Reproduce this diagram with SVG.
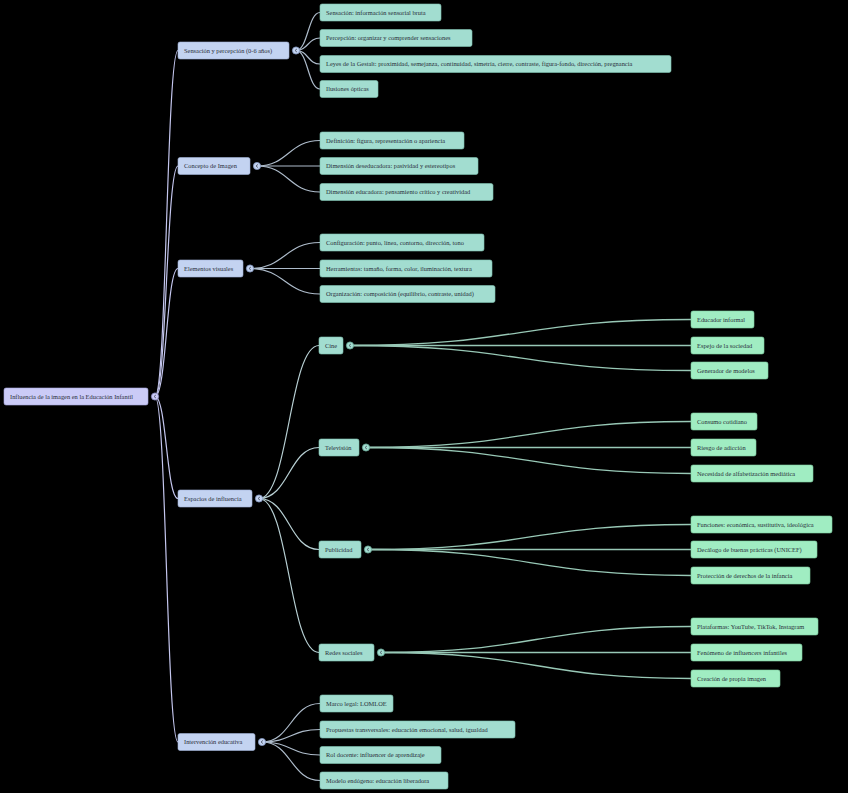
<svg xmlns="http://www.w3.org/2000/svg" width="848" height="793" viewBox="0 0 848 793">
<style>
.bg{fill:#000}
.r0{fill:#cbcbf7;stroke:#aaaadf;stroke-width:0.6}
.r1{fill:#c3d3f1;stroke:#a2b4d8;stroke-width:0.6}
.r2{fill:#a2ddd0;stroke:#82c2b2;stroke-width:0.6}
.r3{fill:#a0edc2;stroke:#80d2a2;stroke-width:0.6}
text{font-family:"Liberation Serif","Times New Roman",serif;font-size:6.4px;fill:#2a2f3a}
.k0{fill:none;stroke:#c4c6ee;stroke-width:1.2}
.k1{fill:none;stroke:#aebccb;stroke-width:1.2}
.k2{fill:none;stroke:#b8d0d4;stroke-width:1.2}
.k3{fill:none;stroke:#98c8b6;stroke-width:1.3}
.c0{fill:#cbcbf7;stroke:#8a8ac0;stroke-width:0.8}
.c1{fill:#c3d3f1;stroke:#8498c0;stroke-width:0.8}
.c2{fill:#a2ddd0;stroke:#6aa898;stroke-width:0.8}
.chev{fill:none;stroke:#3a4050;stroke-width:0.7}
</style>
<rect class="bg" x="0" y="0" width="848" height="793"/>
<g id="connectors">
<!-- root to level 1 -->
<path class="k0" d="M155,396.5 C166.5,396.5 166.5,50.5 178,50.5"/>
<path class="k0" d="M155,396.5 C166.5,396.5 166.5,166 178,166"/>
<path class="k0" d="M155,396.5 C166.5,396.5 166.5,268.5 178,268.5"/>
<path class="k0" d="M155,396.5 C166.5,396.5 166.5,498.5 178,498.5"/>
<path class="k0" d="M155,396.5 C166.5,396.5 166.5,742 178,742"/>
<!-- Sensación -->
<path class="k1" d="M296,50.5 C308,50.5 308,12.5 320,12.5"/>
<path class="k1" d="M296,50.5 C308,50.5 308,38 320,38"/>
<path class="k1" d="M296,50.5 C308,50.5 308,64 320,64"/>
<path class="k1" d="M296,50.5 C308,50.5 308,89 320,89"/>
<!-- Concepto -->
<path class="k1" d="M257,166 C288.5,166 288.5,140.5 320,140.5"/>
<path class="k1" d="M257,166 L320,166"/>
<path class="k1" d="M257,166 C288.5,166 288.5,192 320,192"/>
<!-- Elementos -->
<path class="k1" d="M250,268.5 C285,268.5 285,242.5 320,242.5"/>
<path class="k1" d="M250,268.5 L320,268.5"/>
<path class="k1" d="M250,268.5 C285,268.5 285,294 320,294"/>
<!-- Espacios -->
<path class="k2" d="M259,498.5 C289,498.5 289,345.5 319,345.5"/>
<path class="k2" d="M259,498.5 C289,498.5 289,447.5 319,447.5"/>
<path class="k2" d="M259,498.5 C289,498.5 289,549.5 319,549.5"/>
<path class="k2" d="M259,498.5 C289,498.5 289,652.5 319,652.5"/>
<!-- Intervención -->
<path class="k1" d="M262,742 C291,742 291,703.5 320,703.5"/>
<path class="k1" d="M262,742 C291,742 291,729.5 320,729.5"/>
<path class="k1" d="M262,742 C291,742 291,755 320,755"/>
<path class="k1" d="M262,742 C291,742 291,780.5 320,780.5"/>
<!-- Cine -->
<path class="k3" d="M350,345.5 C520,345.5 520,319.5 691,319.5"/>
<path class="k3" d="M350,345.5 L691,345.5"/>
<path class="k3" d="M350,345.5 C520,345.5 520,370.5 691,370.5"/>
<!-- Televisión -->
<path class="k3" d="M366,447.5 C528,447.5 528,421.5 691,421.5"/>
<path class="k3" d="M366,447.5 L691,447.5"/>
<path class="k3" d="M366,447.5 C528,447.5 528,473.5 691,473.5"/>
<!-- Publicidad -->
<path class="k3" d="M368,549.5 C530,549.5 530,524.5 691,524.5"/>
<path class="k3" d="M368,549.5 L691,549.5"/>
<path class="k3" d="M368,549.5 C530,549.5 530,575.5 691,575.5"/>
<!-- Redes -->
<path class="k3" d="M381,652.5 C536,652.5 536,626.5 691,626.5"/>
<path class="k3" d="M381,652.5 L691,652.5"/>
<path class="k3" d="M381,652.5 C536,652.5 536,678.5 691,678.5"/>
</g>

<g id="root"><rect class="r0" x="4" y="388" width="144" height="17" rx="2"/><text x="10" y="398.7">Influencia de la imagen en la Educación Infantil</text><circle class="c0" cx="155" cy="396.5" r="3.6"/><path class="chev" d="M156,394.9 L154,396.5 L156,398.1"/></g>

<g id="n-sensacion-percepcion"><rect class="r1" x="178" y="42" width="111" height="17" rx="2"/><text x="184" y="52.7">Sensación y percepción (0-6 años)</text><circle class="c1" cx="296" cy="50.5" r="3.6"/><path class="chev" d="M297,48.9 L295,50.5 L297,52.1"/></g>
<g id="n-concepto"><rect class="r1" x="178" y="157.5" width="72" height="17" rx="2"/><text x="184" y="168.2">Concepto de Imagen</text><circle class="c1" cx="257" cy="166" r="3.6"/><path class="chev" d="M258,164.4 L256,166 L258,167.6"/></g>
<g id="n-elementos"><rect class="r1" x="178" y="260" width="65" height="17" rx="2"/><text x="184" y="270.7">Elementos visuales</text><circle class="c1" cx="250" cy="268.5" r="3.6"/><path class="chev" d="M251,266.9 L249,268.5 L251,270.1"/></g>
<g id="n-espacios"><rect class="r1" x="178" y="490" width="74" height="17" rx="2"/><text x="184" y="500.7">Espacios de influencia</text><circle class="c1" cx="259" cy="498.5" r="3.6"/><path class="chev" d="M260,496.9 L258,498.5 L260,500.1"/></g>
<g id="n-intervencion"><rect class="r1" x="178" y="733.5" width="77" height="17" rx="2"/><text x="184" y="744.2">Intervención educativa</text><circle class="c1" cx="262" cy="742" r="3.6"/><path class="chev" d="M263,740.4 L261,742 L263,743.6"/></g>

<g id="n-sensacion"><rect class="r2" x="320" y="4" width="121" height="17" rx="2"/><text x="326" y="14.7">Sensación: información sensorial bruta</text></g>
<g id="n-percepcion"><rect class="r2" x="320" y="29.5" width="152" height="17" rx="2"/><text x="326" y="40.2">Percepción: organizar y comprender sensaciones</text></g>
<g id="n-gestalt"><rect class="r2" x="320" y="55.5" width="351" height="17" rx="2"/><text x="326" y="66.2">Leyes de la Gestalt: proximidad, semejanza, continuidad, simetría, cierre, contraste, figura-fondo, dirección, pregnancia</text></g>
<g id="n-ilusiones"><rect class="r2" x="320" y="80.5" width="58" height="17" rx="2"/><text x="326" y="91.2">Ilusiones ópticas</text></g>

<g id="n-definicion"><rect class="r2" x="320" y="132" width="144" height="17" rx="2"/><text x="326" y="142.7">Definición: figura, representación o apariencia</text></g>
<g id="n-deseducadora"><rect class="r2" x="320" y="157.5" width="158" height="17" rx="2"/><text x="326" y="168.2">Dimensión deseducadora: pasividad y estereotipos</text></g>
<g id="n-educadora"><rect class="r2" x="320" y="183.5" width="173" height="17" rx="2"/><text x="326" y="194.2">Dimensión educadora: pensamiento crítico y creatividad</text></g>

<g id="n-configuracion"><rect class="r2" x="320" y="234" width="164" height="17" rx="2"/><text x="326" y="244.7">Configuración: punto, línea, contorno, dirección, tono</text></g>
<g id="n-herramientas"><rect class="r2" x="320" y="260" width="172" height="17" rx="2"/><text x="326" y="270.7">Herramientas: tamaño, forma, color, iluminación, textura</text></g>
<g id="n-organizacion"><rect class="r2" x="320" y="285.5" width="175" height="17" rx="2"/><text x="326" y="296.2">Organización: composición (equilibrio, contraste, unidad)</text></g>

<g id="n-cine"><rect class="r2" x="319" y="337" width="24" height="17" rx="2"/><text x="325" y="347.7">Cine</text><circle class="c2" cx="350" cy="345.5" r="3.6"/><path class="chev" d="M351,343.9 L349,345.5 L351,347.1"/></g>
<g id="n-television"><rect class="r2" x="319" y="439" width="40" height="17" rx="2"/><text x="325" y="449.7">Televisión</text><circle class="c2" cx="366" cy="447.5" r="3.6"/><path class="chev" d="M367,445.9 L365,447.5 L367,449.1"/></g>
<g id="n-publicidad"><rect class="r2" x="319" y="541" width="42" height="17" rx="2"/><text x="325" y="551.7">Publicidad</text><circle class="c2" cx="368" cy="549.5" r="3.6"/><path class="chev" d="M369,547.9 L367,549.5 L369,551.1"/></g>
<g id="n-redes"><rect class="r2" x="319" y="644" width="55" height="17" rx="2"/><text x="325" y="654.7">Redes sociales</text><circle class="c2" cx="381" cy="652.5" r="3.6"/><path class="chev" d="M382,650.9 L380,652.5 L382,654.1"/></g>

<g id="n-marco"><rect class="r2" x="320" y="695" width="73" height="17" rx="2"/><text x="326" y="705.7">Marco legal: LOMLOE</text></g>
<g id="n-propuestas"><rect class="r2" x="320" y="721" width="195" height="17" rx="2"/><text x="326" y="731.7">Propuestas transversales: educación emocional, salud, igualdad</text></g>
<g id="n-rol"><rect class="r2" x="320" y="746.5" width="121" height="17" rx="2"/><text x="326" y="757.2">Rol docente: influencer de aprendizaje</text></g>
<g id="n-modelo"><rect class="r2" x="320" y="772" width="128" height="17" rx="2"/><text x="326" y="782.7">Modelo endógeno: educación liberadora</text></g>

<g id="n-educador"><rect class="r3" x="691" y="311" width="63" height="17" rx="2"/><text x="697" y="321.7">Educador informal</text></g>
<g id="n-espejo"><rect class="r3" x="691" y="337" width="73" height="17" rx="2"/><text x="697" y="347.7">Espejo de la sociedad</text></g>
<g id="n-generador"><rect class="r3" x="691" y="362" width="77" height="17" rx="2"/><text x="697" y="372.7">Generador de modelos</text></g>

<g id="n-consumo"><rect class="r3" x="691" y="413" width="66" height="17" rx="2"/><text x="697" y="423.7">Consumo cotidiano</text></g>
<g id="n-riesgo"><rect class="r3" x="691" y="439" width="65" height="17" rx="2"/><text x="697" y="449.7">Riesgo de adicción</text></g>
<g id="n-necesidad"><rect class="r3" x="691" y="465" width="122" height="17" rx="2"/><text x="697" y="475.7">Necesidad de alfabetización mediática</text></g>

<g id="n-funciones"><rect class="r3" x="691" y="516" width="141" height="17" rx="2"/><text x="697" y="526.7">Funciones: económica, sustitutiva, ideológica</text></g>
<g id="n-decalogo"><rect class="r3" x="691" y="541" width="126" height="17" rx="2"/><text x="697" y="551.7">Decálogo de buenas prácticas (UNICEF)</text></g>
<g id="n-proteccion"><rect class="r3" x="691" y="567" width="119" height="17" rx="2"/><text x="697" y="577.7">Protección de derechos de la infancia</text></g>

<g id="n-plataformas"><rect class="r3" x="691" y="618" width="127" height="17" rx="2"/><text x="697" y="628.7">Plataformas: YouTube, TikTok, Instagram</text></g>
<g id="n-fenomeno"><rect class="r3" x="691" y="644" width="111" height="17" rx="2"/><text x="697" y="654.7">Fenómeno de influencers infantiles</text></g>
<g id="n-creacion"><rect class="r3" x="691" y="670" width="89" height="17" rx="2"/><text x="697" y="680.7">Creación de propia imagen</text></g>
</svg>
